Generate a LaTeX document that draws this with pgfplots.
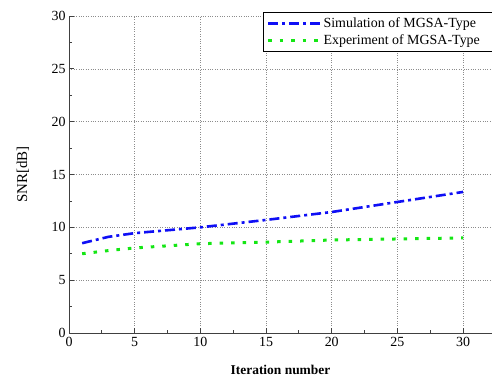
\documentclass[border=0pt]{standalone}
\usepackage{fontspec}
\setmainfont{Liberation Serif}
\usepackage{pgfplots}
\pgfplotsset{compat=1.18}
\definecolor{simblue}{RGB}{15,15,245}
\definecolor{expgreen}{RGB}{20,230,20}
\begin{document}
\begin{tikzpicture}
\begin{axis}[
  scale only axis,
  width=423bp, height=317bp,
  xmin=0, xmax=32.2, ymin=0, ymax=30,
  axis x line*=bottom, axis y line*=left,
  axis line style={line width=1bp, draw=black!75, -},
  xtick={0,5,...,30}, ytick={0,5,...,30},
  minor x tick num=1, minor y tick num=1,
  tick align=inside,
  major tick length=5bp, minor tick length=3bp,
  tick style={line width=0.8bp, draw=black!75},
  grid=major,
  major grid style={dotted, line width=0.6bp, draw=black!45},
  /pgf/number format/assume math mode=true,
  ticklabel style={font=\fontsize{14}{16}\selectfont},
  xticklabel style={yshift=-1bp},
  xlabel={Iteration number},
  ylabel={SNR[dB]},
  xlabel style={font=\bfseries\fontsize{13.5}{16}\selectfont, at={(axis description cs:0.5,0)}, anchor=center, yshift=-37bp},
  ylabel style={font=\fontsize{15}{17}\selectfont, at={(axis description cs:0,0.5)}, anchor=center, yshift=46bp},
  legend cell align=left,
  legend style={at={(axis description cs:0.4586,1.0126)}, anchor=north west,
    draw=black, line width=1.2bp, font=\fontsize{14}{16}\selectfont,
    inner xsep=3bp, inner ysep=3.5bp, row sep=1.5bp},
  legend image code/.code={\draw[#1] (0bp,0bp) -- (52bp,0bp);},
]
\addplot[simblue, line width=2.6bp, dash pattern=on 10bp off 4bp on 3bp off 4bp]
  coordinates {(1,8.5) (3,9.1) (5,9.45) (10,10.0) (15,10.7) (20,11.45) (25,12.4) (30,13.35)};
\addlegendentry{Simulation of MGSA-Type\hspace*{12bp}}
\addplot[expgreen, line width=3bp, dash pattern=on 3.5bp off 8bp]
  coordinates {(1,7.5) (3,7.8) (5,8.05) (10,8.45) (15,8.6) (20,8.8) (25,8.9) (30,9.0)};
\addlegendentry{Experiment of MGSA-Type\hspace*{12bp}}
\end{axis}
\pgfresetboundingbox
\path (-69bp,-49bp) rectangle (423bp,333bp);
\end{tikzpicture}
\end{document}
